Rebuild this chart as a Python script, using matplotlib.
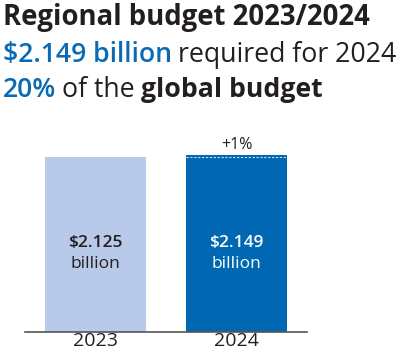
import matplotlib.pyplot as plt

# Data
years = ['2023', '2024']
budget = [2.125, 2.149]
bar_labels = ['$2.125\nbillion', '$2.149\nbillion']
bar_colors = ['#b8c9e9', '#0068b3']
label_colors = ['#231f20', 'white']
change_label = '+1%'

plt.rcParams['font.family'] = ['Open Sans', 'DejaVu Sans']

fig = plt.figure(figsize=(4.0, 3.54), dpi=100)
ax = fig.add_axes([25/400, 1 - 332/354, 282/400, 202/354])

bars = ax.bar(range(len(years)), budget, width=0.72, color=bar_colors)

# dashed line on 2024 bar at 2023 level
ax.plot([1 - 0.36, 1 + 0.36], [budget[0], budget[0]], color='white',
        lw=0.8, ls=(0, (2, 1.5)), alpha=0.8)

for i, lab in enumerate(bar_labels):
    amount, unit = lab.split('\n')
    ax.text(i, 1.08, amount, ha='center', va='center',
            fontsize=12.5, fontweight='semibold', color=label_colors[i])
    ax.text(i, 0.82, unit, ha='center', va='center',
            fontsize=12.5, color=label_colors[i])

ax.text(1, budget[1] + 0.03, change_label, ha='center', va='bottom',
        fontsize=11.5, color='#231f20')

ax.set_xlim(-0.5, 1.5)
ax.set_ylim(0, 2.149 * 202 / 177)
ax.set_xticks(range(len(years)))
ax.set_xticklabels(years, fontsize=14, color='#231f20')
ax.tick_params(axis='x', length=0, pad=0)
ax.set_yticks([])
for s in ['top', 'right', 'left']:
    ax.spines[s].set_visible(False)
ax.spines['bottom'].set_color('#555555')
ax.spines['bottom'].set_linewidth(1.2)

# Header text
fig.text(3/400, 1 - 25/354, 'Regional budget 2023/2024', fontsize=19.8,
         fontweight='bold', color='#231f20')
fs = 19.2
t = fig.text(3/400, 1 - 62/354, '$2.149 billion', fontsize=fs,
             color='#0a6ab4', fontweight='semibold')
fig.canvas.draw()
bb = t.get_window_extent()
fig.text(bb.x1 / 400 + 0.015, 1 - 62/354, 'required for 2024', fontsize=fs,
         color='#231f20')
t2 = fig.text(3/400, 1 - 97/354, '20%', fontsize=fs, color='#0a6ab4',
              fontweight='semibold')
fig.canvas.draw()
bb2 = t2.get_window_extent()
t3 = fig.text(bb2.x1 / 400 + 0.015, 1 - 97/354, 'of the', fontsize=fs,
              color='#231f20')
fig.canvas.draw()
bb3 = t3.get_window_extent()
fig.text(bb3.x1 / 400 + 0.015, 1 - 97/354, 'global budget', fontsize=fs,
         color='#231f20', fontweight='bold')

fig.savefig('out.png', dpi=100)
